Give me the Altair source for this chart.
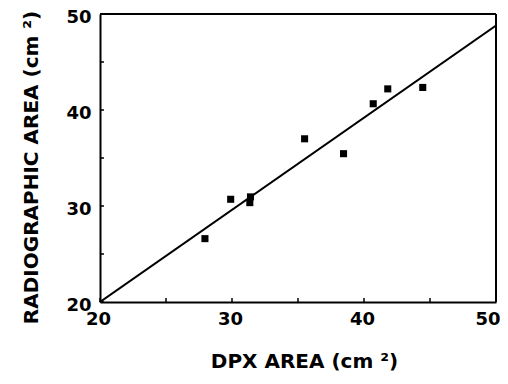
import altair as alt
import pandas as pd

dpx_area = [27.95, 29.9, 31.4, 31.35, 35.5, 38.45, 40.7, 41.8, 44.45]
radiographic_area = [26.6, 30.7, 30.95, 30.35, 37.0, 35.45, 40.65, 42.2, 42.35]

fit_x = [20, 50]
fit_y = [20, 48.8]

major_ticks = [20, 30, 40, 50]
minor_ticks = [25, 35, 45]

pts = pd.DataFrame({"x": dpx_area, "y": radiographic_area})
fit = pd.DataFrame({"x": fit_x, "y": fit_y})
tk = pd.DataFrame({"v": major_ticks + minor_ticks})

FONT = "DejaVu Sans"
W, H = 396, 288
xs = alt.Scale(domain=[20, 50], nice=False, zero=False)
ys = alt.Scale(domain=[20, 50], nice=False, zero=False)

xaxis = alt.Axis(values=major_ticks, title="DPX AREA (cm ²)", ticks=False,
                 labelFont=FONT, labelFontWeight="bold", labelFontSize=18,
                 labelColor="black", labelPadding=8,
                 labelAlign={"condition": {"test": "datum.value == 50", "value": "right"},
                             "value": "center"},
                 labelOffset={"condition": {"test": "datum.value == 50", "value": 4},
                              "value": -2},
                 titleFont=FONT, titleFontWeight="bold", titleFontSize=20,
                 titleColor="black", titlePadding=23, titleX=W / 2 + 6,
                 domainColor="black", domainWidth=2, grid=False,
                 labelFlush=False)
yaxis = alt.Axis(values=major_ticks, title="RADIOGRAPHIC AREA (cm ²)", ticks=False,
                 labelFont=FONT, labelFontWeight="bold", labelFontSize=18,
                 labelColor="black", labelPadding=9, labelOffset=3,
                 titleFont=FONT, titleFontWeight="bold", titleFontSize=20,
                 titleColor="black", titlePadding=24, titleY=H / 2 + 9,
                 domainColor="black", domainWidth=2, grid=False,
                 labelFlush=False)

points = alt.Chart(pts).mark_square(size=50, color="black", opacity=1).encode(
    x=alt.X("x:Q", scale=xs, axis=xaxis),
    y=alt.Y("y:Q", scale=ys, axis=yaxis),
)

line = alt.Chart(fit).mark_line(color="black", strokeWidth=2, clip=True).encode(
    x=alt.X("x:Q", scale=xs),
    y=alt.Y("y:Q", scale=ys),
)

xticks = alt.Chart(tk).mark_rule(color="black", strokeWidth=1.5).encode(
    x=alt.X("v:Q", scale=xs),
    y=alt.value(H),
    y2=alt.value(H - 4),
)
yticks = alt.Chart(tk).mark_rule(color="black", strokeWidth=1.5).encode(
    y=alt.Y("v:Q", scale=ys),
    x=alt.value(0),
    x2=alt.value(4),
)

top_border = alt.Chart(fit).mark_rule(color="black", strokeWidth=2).encode(
    x=alt.value(0), x2=alt.value(W), y=alt.value(0)
)
right_border = alt.Chart(fit).mark_rule(color="black", strokeWidth=2).encode(
    x=alt.value(W), y=alt.value(0), y2=alt.value(H)
)

chart = alt.layer(line, points, xticks, yticks, top_border, right_border).properties(
    width=W, height=H,
    autosize=alt.AutoSizeParams(type="none"),
    padding={"left": 92, "top": 6, "right": 4, "bottom": 74},
).configure_view(stroke=None).configure(background="white")

chart.save("out.html", embed_options={"renderer": "svg", "actions": False})
